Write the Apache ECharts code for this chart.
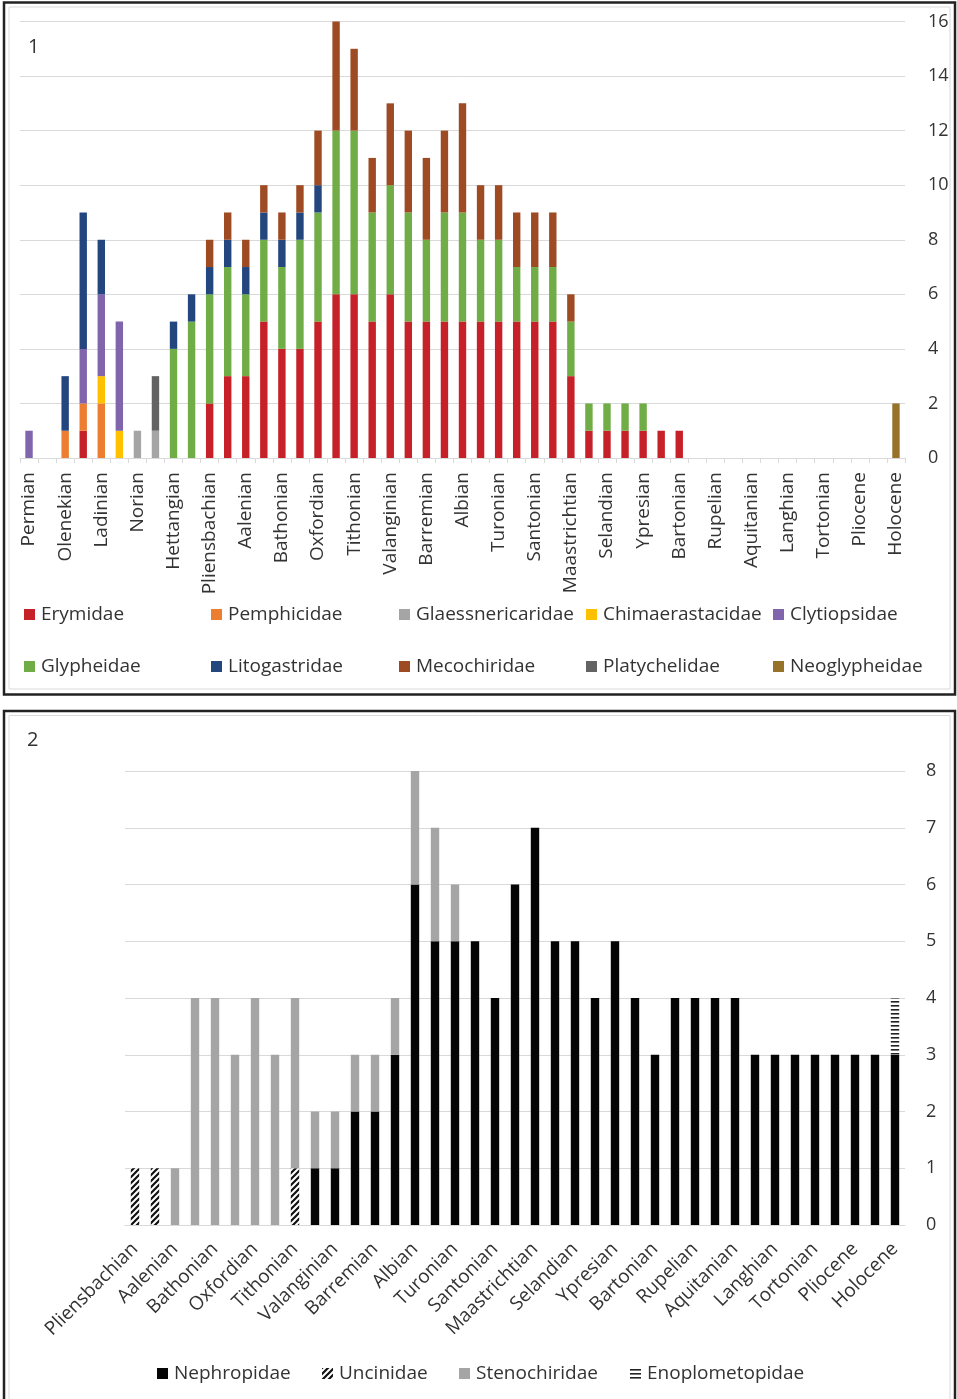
<!DOCTYPE html>
<html>
<head>
<meta charset="utf-8">
<script src="https://cdn.jsdelivr.net/npm/echarts@6/dist/echarts.min.js"></script>
<style>
  html, body { margin: 0; padding: 0; background: #fff; }
  #chart { width: 957px; height: 1399px; }
</style>
</head>
<body>
<div id="chart"></div>
<script>
// Stratigraphic stages, Permian to Holocene
const stages = [
  'Permian', 'Induan', 'Olenekian', 'Anisian', 'Ladinian', 'Carnian', 'Norian', 'Rhaetian',
  'Hettangian', 'Sinemurian', 'Pliensbachian', 'Toarcian', 'Aalenian', 'Bajocian', 'Bathonian',
  'Callovian', 'Oxfordian', 'Kimmeridgian', 'Tithonian', 'Berriasian', 'Valanginian', 'Hauterivian',
  'Barremian', 'Aptian', 'Albian', 'Cenomanian', 'Turonian', 'Coniacian', 'Santonian', 'Campanian',
  'Maastrichtian', 'Danian', 'Selandian', 'Thanetian', 'Ypresian', 'Lutetian', 'Bartonian',
  'Priabonian', 'Rupelian', 'Chattian', 'Aquitanian', 'Burdigalian', 'Langhian', 'Serravallian',
  'Tortonian', 'Messinian', 'Pliocene', 'Pleistocene', 'Holocene'
];

// Panel 1: number of genera per family (Glypheidea and allies), one value per stage
const erymidae          = [0,0,0,1,0,0,0,0,0,0, 2,3,3,5,4,4,5,6,6,5, 6,5,5,5,5,5,5,5,5,5, 3,1,1,1,1,1,1,0,0,0, 0,0,0,0,0,0,0,0,0];
const pemphicidae       = [0,0,1,1,2,0,0,0,0,0, 0,0,0,0,0,0,0,0,0,0, 0,0,0,0,0,0,0,0,0,0, 0,0,0,0,0,0,0,0,0,0, 0,0,0,0,0,0,0,0,0];
const glaessnericaridae = [0,0,0,0,0,0,1,1,0,0, 0,0,0,0,0,0,0,0,0,0, 0,0,0,0,0,0,0,0,0,0, 0,0,0,0,0,0,0,0,0,0, 0,0,0,0,0,0,0,0,0];
const chimaerastacidae  = [0,0,0,0,1,1,0,0,0,0, 0,0,0,0,0,0,0,0,0,0, 0,0,0,0,0,0,0,0,0,0, 0,0,0,0,0,0,0,0,0,0, 0,0,0,0,0,0,0,0,0];
const clytiopsidae      = [1,0,0,2,3,4,0,0,0,0, 0,0,0,0,0,0,0,0,0,0, 0,0,0,0,0,0,0,0,0,0, 0,0,0,0,0,0,0,0,0,0, 0,0,0,0,0,0,0,0,0];
const glypheidae        = [0,0,0,0,0,0,0,0,4,5, 4,4,3,3,3,4,4,6,6,4, 4,4,3,4,4,3,3,2,2,2, 2,1,1,1,1,0,0,0,0,0, 0,0,0,0,0,0,0,0,0];
const litogastridae     = [0,0,2,5,2,0,0,0,1,1, 1,1,1,1,1,1,1,0,0,0, 0,0,0,0,0,0,0,0,0,0, 0,0,0,0,0,0,0,0,0,0, 0,0,0,0,0,0,0,0,0];
const mecochiridae      = [0,0,0,0,0,0,0,0,0,0, 1,1,1,1,1,1,2,4,3,2, 3,3,3,3,4,2,2,2,2,2, 1,0,0,0,0,0,0,0,0,0, 0,0,0,0,0,0,0,0,0];
const platychelidae     = [0,0,0,0,0,0,0,2,0,0, 0,0,0,0,0,0,0,0,0,0, 0,0,0,0,0,0,0,0,0,0, 0,0,0,0,0,0,0,0,0,0, 0,0,0,0,0,0,0,0,0];
const neoglypheidae     = [0,0,0,0,0,0,0,0,0,0, 0,0,0,0,0,0,0,0,0,0, 0,0,0,0,0,0,0,0,0,0, 0,0,0,0,0,0,0,0,0,0, 0,0,0,0,0,0,0,0,2];

// Panel 2: Nephropoidea, Pliensbachian to Holocene
const stages2 = stages.slice(10);
const nephropidae     = [0,0,0,0,0,0,0,0,0,1, 1,2,2,3,6,5,5,5,4,6, 7,5,5,4,5,4,3,4,4,4, 4,3,3,3,3,3,3,3,3];
const uncinidae       = [1,1,0,0,0,0,0,0,1,0, 0,0,0,0,0,0,0,0,0,0, 0,0,0,0,0,0,0,0,0,0, 0,0,0,0,0,0,0,0,0];
const stenochiridae   = [0,0,1,4,4,3,4,3,3,1, 1,1,1,1,2,2,1,0,0,0, 0,0,0,0,0,0,0,0,0,0, 0,0,0,0,0,0,0,0,0];
const enoplometopidae = [0,0,0,0,0,0,0,0,0,0, 0,0,0,0,0,0,0,0,0,0, 0,0,0,0,0,0,0,0,0,0, 0,0,0,0,0,0,0,0,1];

// Fill patterns
function diagonalHatch() {
  const c = document.createElement('canvas');
  c.width = 6; c.height = 6;
  const g = c.getContext('2d');
  g.fillStyle = '#fff'; g.fillRect(0, 0, 6, 6);
  g.strokeStyle = '#111'; g.lineWidth = 2.2; g.lineCap = 'square';
  g.beginPath();
  g.moveTo(-1, 7); g.lineTo(7, -1);
  g.moveTo(-1, 1); g.lineTo(1, -1);
  g.moveTo(5, 7); g.lineTo(7, 5);
  g.stroke();
  return { image: c, repeat: 'repeat' };
}
function horizontalHatch() {
  const c = document.createElement('canvas');
  c.width = 4; c.height = 4;
  const g = c.getContext('2d');
  g.fillStyle = '#fff'; g.fillRect(0, 0, 4, 4);
  g.fillStyle = '#222'; g.fillRect(0, 1, 4, 1.6);
  return { image: c, repeat: 'repeat' };
}

const FONT = '"Open Sans", "Noto Sans", sans-serif';
const TXT = '#333';

const panel1 = [
  ['Erymidae', erymidae, '#C62128'],
  ['Pemphicidae', pemphicidae, '#ED7D31'],
  ['Glaessnericaridae', glaessnericaridae, '#A5A5A5'],
  ['Chimaerastacidae', chimaerastacidae, '#FFC000'],
  ['Clytiopsidae', clytiopsidae, '#8064AC'],
  ['Glypheidae', glypheidae, '#70AD47'],
  ['Litogastridae', litogastridae, '#24467E'],
  ['Mecochiridae', mecochiridae, '#9E4A22'],
  ['Platychelidae', platychelidae, '#636363'],
  ['Neoglypheidae', neoglypheidae, '#97732A']
];
const panel2 = [
  ['Nephropidae', nephropidae, '#050505'],
  ['Uncinidae', uncinidae, diagonalHatch()],
  ['Stenochiridae', stenochiridae, '#A5A5A5'],
  ['Enoplometopidae', enoplometopidae, horizontalHatch()]
];

const series = [];
panel1.forEach(([name, data, color]) => series.push({
  name, type: 'bar', stack: 'p1', xAxisIndex: 0, yAxisIndex: 0,
  data, barWidth: '41%', itemStyle: { color }, emphasis: { disabled: true }
}));
panel2.forEach(([name, data, color]) => series.push({
  name, type: 'bar', stack: 'p2', xAxisIndex: 1, yAxisIndex: 1,
  data, barWidth: '42%', itemStyle: { color }, emphasis: { disabled: true }
}));

// One legend block per item so each sits in its own column
const legendCols1 = [24, 211, 399, 586, 773];
const legendRows1 = [605, 657];
const legendCols2 = [157, 322, 459, 630];
const legendStyle = {
  icon: 'rect', itemWidth: 11, itemHeight: 11, itemGap: 0, padding: 0, selectedMode: false,
  textStyle: { fontFamily: FONT, fontSize: 19, color: TXT, padding: [0, 0, 0, 1] }
};
const legends = [];
panel1.forEach(([name], i) => legends.push(Object.assign({
  data: [name], left: legendCols1[i % 5], top: legendRows1[Math.floor(i / 5)]
}, legendStyle)));
panel2.forEach(([name], i) => legends.push(Object.assign({
  data: [name], left: legendCols2[i], top: 1364
}, legendStyle)));

const option = {
  animation: false,
  backgroundColor: '#fff',
  textStyle: { fontFamily: FONT },
  graphic: [
    { type: 'rect', shape: { x: 4, y: 2.5, width: 951, height: 692 }, style: { fill: 'none', stroke: '#222', lineWidth: 2.5 } },
    { type: 'rect', shape: { x: 9, y: 7, width: 941, height: 682 }, style: { fill: 'none', stroke: '#d9d9d9', lineWidth: 1 } },
    { type: 'rect', shape: { x: 4, y: 711, width: 951, height: 700 }, style: { fill: 'none', stroke: '#222', lineWidth: 2.5 } },
    { type: 'rect', shape: { x: 9, y: 715.5, width: 941, height: 690 }, style: { fill: 'none', stroke: '#d9d9d9', lineWidth: 1 } },
    { type: 'text', left: 28, top: 37, style: { text: '1', fontFamily: FONT, fontSize: 20, fill: TXT } },
    { type: 'text', left: 27, top: 730, style: { text: '2', fontFamily: FONT, fontSize: 20, fill: TXT } }
  ],
  legend: legends,
  grid: [
    { left: 20, top: 21.5, width: 885, height: 436.5, containLabel: false },
    { left: 125, top: 771, width: 780, height: 454, containLabel: false }
  ],
  xAxis: [
    {
      type: 'category', gridIndex: 0, data: stages, boundaryGap: true,
      axisLine: { lineStyle: { color: '#d9d9d9', width: 1 } },
      axisTick: { show: true, interval: 0, length: 5, lineStyle: { color: '#d9d9d9' } },
      axisLabel: { interval: 1, rotate: 90, margin: 14, fontFamily: FONT, fontSize: 19, color: TXT }
    },
    {
      type: 'category', gridIndex: 1, data: stages2, boundaryGap: true,
      axisLine: { lineStyle: { color: '#d9d9d9', width: 1 } },
      axisTick: { show: false },
      axisLabel: { interval: 1, rotate: 45, margin: 21, fontFamily: FONT, fontSize: 19, color: TXT }
    }
  ],
  yAxis: [
    {
      type: 'value', gridIndex: 0, position: 'right', min: 0, max: 16, interval: 2,
      axisLine: { show: false }, axisTick: { show: false },
      splitLine: { lineStyle: { color: '#d9d9d9', width: 1 } },
      axisLabel: { margin: 23, fontFamily: FONT, fontSize: 18, color: TXT }
    },
    {
      type: 'value', gridIndex: 1, position: 'right', min: 0, max: 8, interval: 1,
      axisLine: { show: false }, axisTick: { show: false },
      splitLine: { lineStyle: { color: '#d9d9d9', width: 1 } },
      axisLabel: { margin: 21, fontFamily: FONT, fontSize: 18, color: TXT }
    }
  ],
  series
};

const chart = echarts.init(document.getElementById('chart'), null, { renderer: 'canvas' });
chart.setOption(option);
</script>
</body>
</html>
